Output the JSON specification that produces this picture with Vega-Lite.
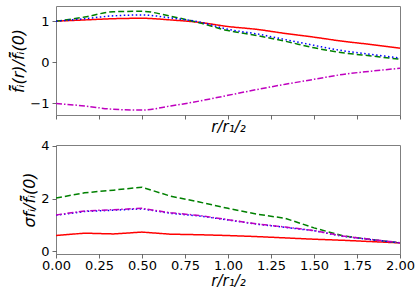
{
  "$schema": "https://vega.github.io/schema/vega-lite/v6.json",
  "padding": {"left": 10, "top": 5, "right": 5, "bottom": 5},
  "background": "white",
  "bounds": "flush",
  "spacing": 30,
  "config": {
    "font": "DejaVu Sans",
    "view": {"stroke": "#7f7f7f", "strokeWidth": 1},
    "axis": {
      "domain": false,
      "grid": false,
      "tickColor": "#444444",
      "tickSize": 4,
      "tickWidth": 0.8,
      "labelColor": "black",
      "labelFont": "DejaVu Sans",
      "labelFontSize": 13,
      "titleColor": "black",
      "titleFont": "DejaVu Sans",
      "titleFontSize": 15,
      "titleFontWeight": "normal",
      "titleFontStyle": "italic"
    }
  },
  "datasets": {
    "top": [
      {"r": 0, "s": "red", "v": 1.0}, {"r": 0.1667, "s": "red", "v": 1.03}, {"r": 0.3333, "s": "red", "v": 1.06}, {"r": 0.5, "s": "red", "v": 1.07}, {"r": 0.6667, "s": "red", "v": 1.03}, {"r": 0.8333, "s": "red", "v": 0.97}, {"r": 1.0, "s": "red", "v": 0.87}, {"r": 1.1667, "s": "red", "v": 0.8}, {"r": 1.3333, "s": "red", "v": 0.7}, {"r": 1.5, "s": "red", "v": 0.61}, {"r": 1.6667, "s": "red", "v": 0.51}, {"r": 1.8333, "s": "red", "v": 0.43}, {"r": 2.0, "s": "red", "v": 0.34},
      {"r": 0, "s": "green", "v": 1.0}, {"r": 0.1667, "s": "green", "v": 1.1}, {"r": 0.3333, "s": "green", "v": 1.23}, {"r": 0.5, "s": "green", "v": 1.24}, {"r": 0.6667, "s": "green", "v": 1.12}, {"r": 0.8333, "s": "green", "v": 0.96}, {"r": 1.0, "s": "green", "v": 0.77}, {"r": 1.1667, "s": "green", "v": 0.65}, {"r": 1.3333, "s": "green", "v": 0.51}, {"r": 1.5, "s": "green", "v": 0.35}, {"r": 1.6667, "s": "green", "v": 0.23}, {"r": 1.8333, "s": "green", "v": 0.15}, {"r": 2.0, "s": "green", "v": 0.07},
      {"r": 0, "s": "blue", "v": 1.0}, {"r": 0.1667, "s": "blue", "v": 1.06}, {"r": 0.3333, "s": "blue", "v": 1.13}, {"r": 0.5, "s": "blue", "v": 1.15}, {"r": 0.6667, "s": "blue", "v": 1.08}, {"r": 0.8333, "s": "blue", "v": 0.98}, {"r": 1.0, "s": "blue", "v": 0.8}, {"r": 1.1667, "s": "blue", "v": 0.69}, {"r": 1.3333, "s": "blue", "v": 0.55}, {"r": 1.5, "s": "blue", "v": 0.41}, {"r": 1.6667, "s": "blue", "v": 0.28}, {"r": 1.8333, "s": "blue", "v": 0.19}, {"r": 2.0, "s": "blue", "v": 0.1},
      {"r": 0, "s": "magenta", "v": -1.01}, {"r": 0.1667, "s": "magenta", "v": -1.07}, {"r": 0.3333, "s": "magenta", "v": -1.15}, {"r": 0.5, "s": "magenta", "v": -1.17}, {"r": 0.6667, "s": "magenta", "v": -1.07}, {"r": 0.8333, "s": "magenta", "v": -0.95}, {"r": 1.0, "s": "magenta", "v": -0.81}, {"r": 1.1667, "s": "magenta", "v": -0.67}, {"r": 1.3333, "s": "magenta", "v": -0.54}, {"r": 1.5, "s": "magenta", "v": -0.42}, {"r": 1.6667, "s": "magenta", "v": -0.3}, {"r": 1.8333, "s": "magenta", "v": -0.22}, {"r": 2.0, "s": "magenta", "v": -0.15}
    ],
    "bottom": [
      {"r": 0, "s": "red", "v": 0.6}, {"r": 0.1667, "s": "red", "v": 0.69}, {"r": 0.3333, "s": "red", "v": 0.66}, {"r": 0.5, "s": "red", "v": 0.73}, {"r": 0.6667, "s": "red", "v": 0.65}, {"r": 0.8333, "s": "red", "v": 0.63}, {"r": 1.0, "s": "red", "v": 0.6}, {"r": 1.1667, "s": "red", "v": 0.56}, {"r": 1.3333, "s": "red", "v": 0.51}, {"r": 1.5, "s": "red", "v": 0.46}, {"r": 1.6667, "s": "red", "v": 0.42}, {"r": 1.8333, "s": "red", "v": 0.37}, {"r": 2.0, "s": "red", "v": 0.32},
      {"r": 0, "s": "green", "v": 2.02}, {"r": 0.1667, "s": "green", "v": 2.22}, {"r": 0.3333, "s": "green", "v": 2.32}, {"r": 0.5, "s": "green", "v": 2.43}, {"r": 0.6667, "s": "green", "v": 2.09}, {"r": 0.8333, "s": "green", "v": 1.87}, {"r": 1.0, "s": "green", "v": 1.63}, {"r": 1.1667, "s": "green", "v": 1.41}, {"r": 1.3333, "s": "green", "v": 1.25}, {"r": 1.5, "s": "green", "v": 0.89}, {"r": 1.6667, "s": "green", "v": 0.59}, {"r": 1.8333, "s": "green", "v": 0.45}, {"r": 2.0, "s": "green", "v": 0.32},
      {"r": 0, "s": "blue", "v": 1.37}, {"r": 0.1667, "s": "blue", "v": 1.51}, {"r": 0.3333, "s": "blue", "v": 1.56}, {"r": 0.5, "s": "blue", "v": 1.61}, {"r": 0.6667, "s": "blue", "v": 1.44}, {"r": 0.8333, "s": "blue", "v": 1.34}, {"r": 1.0, "s": "blue", "v": 1.19}, {"r": 1.1667, "s": "blue", "v": 1.03}, {"r": 1.3333, "s": "blue", "v": 0.91}, {"r": 1.5, "s": "blue", "v": 0.78}, {"r": 1.6667, "s": "blue", "v": 0.57}, {"r": 1.8333, "s": "blue", "v": 0.44}, {"r": 2.0, "s": "blue", "v": 0.32},
      {"r": 0, "s": "magenta", "v": 1.38}, {"r": 0.1667, "s": "magenta", "v": 1.53}, {"r": 0.3333, "s": "magenta", "v": 1.58}, {"r": 0.5, "s": "magenta", "v": 1.63}, {"r": 0.6667, "s": "magenta", "v": 1.46}, {"r": 0.8333, "s": "magenta", "v": 1.36}, {"r": 1.0, "s": "magenta", "v": 1.2}, {"r": 1.1667, "s": "magenta", "v": 1.04}, {"r": 1.3333, "s": "magenta", "v": 0.92}, {"r": 1.5, "s": "magenta", "v": 0.79}, {"r": 1.6667, "s": "magenta", "v": 0.58}, {"r": 1.8333, "s": "magenta", "v": 0.45}, {"r": 2.0, "s": "magenta", "v": 0.33}
    ]
  },
  "vconcat": [
    {
      "width": 344,
      "height": 109,
      "data": {"name": "top"},
      "mark": {"type": "line", "strokeWidth": 1.5, "interpolate": "monotone", "clip": true},
      "encoding": {
        "x": {"field": "r", "type": "quantitative", "scale": {"domain": [0, 2], "nice": false, "zero": false},
          "axis": {"title": "r/r₁/₂", "labels": false, "values": [0, 0.25, 0.5, 0.75, 1, 1.25, 1.5, 1.75, 2], "titlePadding": 0}},
        "y": {"field": "v", "type": "quantitative", "scale": {"domain": [-1.29, 1.37], "nice": false, "zero": false},
          "axis": {"title": "f̃̄ᵢ(r)/f̃̄ᵢ(0)", "titleFontSize": 16, "values": [-1, 0, 1], "labelPadding": 3, "titlePadding": 3}},
        "color": {"field": "s", "type": "nominal", "legend": null,
          "scale": {"domain": ["red", "green", "blue", "magenta"], "range": ["#ff0000", "#008000", "#0000ff", "#bf00bf"]}},
        "strokeDash": {"field": "s", "type": "nominal", "legend": null,
          "scale": {"domain": ["red", "green", "blue", "magenta"], "range": [[1, 0], [6, 3], [1.5, 2.5], [6, 2, 1.5, 2]]}}
      }
    },
    {
      "width": 344,
      "height": 109,
      "data": {"name": "bottom"},
      "mark": {"type": "line", "strokeWidth": 1.5, "clip": true},
      "encoding": {
        "x": {"field": "r", "type": "quantitative", "scale": {"domain": [0, 2], "nice": false, "zero": false},
          "axis": {"title": "r/r₁/₂", "format": ".2f", "values": [0, 0.25, 0.5, 0.75, 1, 1.25, 1.5, 1.75, 2], "labelPadding": 1, "titlePadding": 1, "labelFlush": false}},
        "y": {"field": "v", "type": "quantitative", "scale": {"domain": [-0.1, 4.03], "nice": false, "zero": false},
          "axis": {"title": "σfᵢ/f̃̄ᵢ(0)", "titleFontSize": 16, "values": [0, 2, 4], "labelPadding": 3, "titlePadding": 3}},
        "color": {"field": "s", "type": "nominal", "legend": null,
          "scale": {"domain": ["red", "green", "blue", "magenta"], "range": ["#ff0000", "#008000", "#0000ff", "#bf00bf"]}},
        "strokeDash": {"field": "s", "type": "nominal", "legend": null,
          "scale": {"domain": ["red", "green", "blue", "magenta"], "range": [[1, 0], [6, 3], [1.5, 2.5], [6, 2, 1.5, 2]]}}
      }
    }
  ]
}
